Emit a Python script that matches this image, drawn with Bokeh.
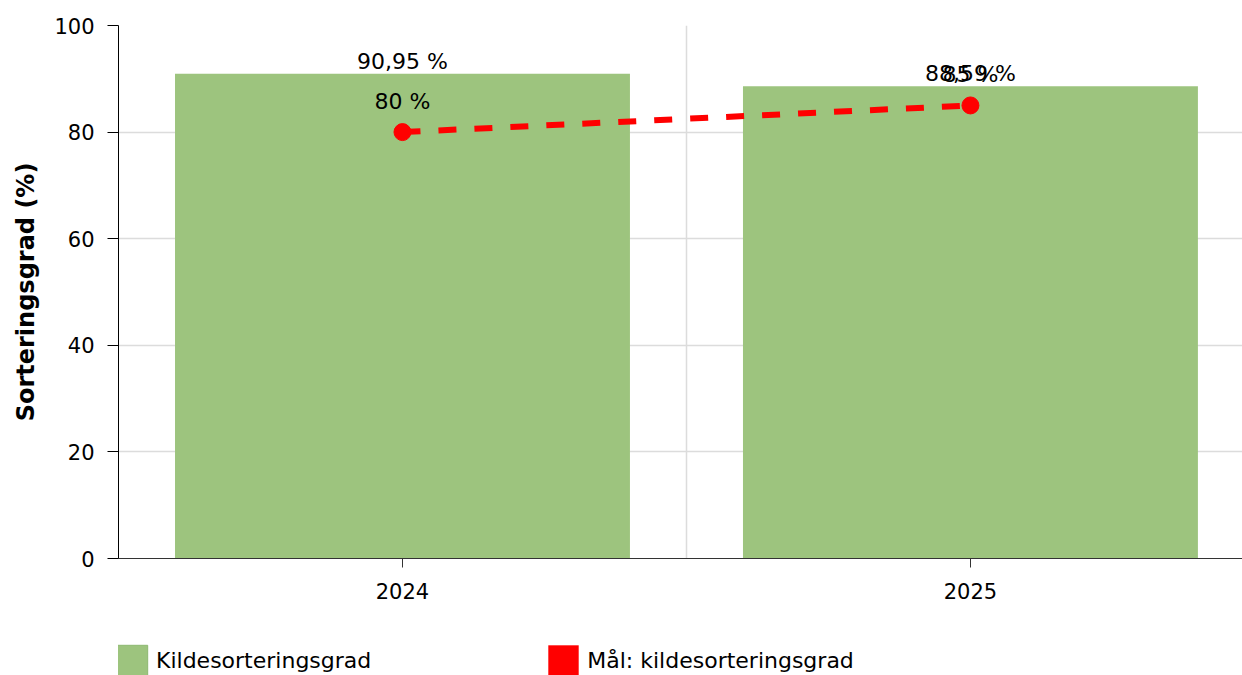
from bokeh.plotting import figure
from bokeh.layouts import column
from bokeh.models import ColumnDataSource, Range1d, FixedTicker, LabelSet, Legend, LegendItem
from bokeh.core.properties import value
from bokeh.embed import file_html
from bokeh.resources import INLINE

years = ["2024", "2025"]
sorting_rate = [90.95, 88.59]
target_rate = [80, 85]
bar_labels = ["90,95 %", "88,59 %"]
target_labels = ["80 %", "85 %"]
series_names = ["Kildesorteringsgrad", "Mål: kildesorteringsgrad"]

FONT = "DejaVu Sans"
GREEN = "#9DC47E"
RED = "#FF0000"

xs = [i + 0.5 for i in range(len(years))]
src = ColumnDataSource(dict(x=xs, bar=sorting_rate, target=target_rate,
                            bl=bar_labels, tl=target_labels, zero=[0] * len(xs)))

# the original chart's plot area runs a little past the right edge of the picture
p = figure(width=1242, height=605, output_backend="svg", toolbar_location=None,
           x_range=Range1d(0, 1.979), y_range=Range1d(0, 100),
           min_border_left=118, min_border_top=25, min_border_right=0, min_border_bottom=47)
p.outline_line_color = None
p.background_fill_color = "white"

p.xgrid.ticker = FixedTicker(ticks=list(range(1, len(years))))
p.xgrid.grid_line_color = "#dcdcdc"
p.ygrid.grid_line_color = "#dcdcdc"
p.xgrid.grid_line_width = 1.5
p.ygrid.grid_line_width = 1.5

bars = p.vbar(x="x", top="bar", width=0.801, source=src, fill_color=GREEN, line_color=None)
p.line(x="x", y="target", source=src, line_color=RED, line_width=6, line_dash="18 18")
p.scatter(x="x", y="target", source=src, size=17, fill_color=RED, line_color=RED)

p.add_layout(LabelSet(x="x", y="bar", text="bl", source=src, text_align="center",
                      text_baseline="alphabetic", y_offset=5, text_font=value(FONT),
                      text_font_size="22px", text_color="#000000"))
p.add_layout(LabelSet(x="x", y="target", text="tl", source=src, text_align="center",
                      text_baseline="alphabetic", y_offset=23, text_font=value(FONT),
                      text_font_size="22px", text_color="#000000"))

# axes
p.xaxis.ticker = FixedTicker(ticks=xs)
p.xaxis.major_label_overrides = {x: y for x, y in zip(xs, years)}
p.xaxis.minor_tick_line_color = None
p.xaxis.major_tick_out = 9
p.xaxis.major_tick_in = 0
p.xaxis.major_label_standoff = 15
p.xaxis.axis_line_color = "#333333"
p.xaxis.major_tick_line_color = "#333333"

p.yaxis.ticker = FixedTicker(ticks=[0, 20, 40, 60, 80, 100])
p.yaxis.minor_tick_line_color = None
p.yaxis.major_tick_out = 11
p.yaxis.major_tick_in = 0
p.yaxis.major_label_standoff = 13
p.yaxis.axis_label = "Sorteringsgrad (%)"
p.yaxis.axis_label_text_font_style = "bold"
p.yaxis.axis_label_standoff = 11
p.yaxis.axis_line_color = "#000000"
p.yaxis.major_tick_line_color = "#000000"

for ax in (p.xaxis, p.yaxis):
    ax.major_label_text_font = FONT
    ax.major_label_text_font_size = "21px"
    ax.major_label_text_color = "#000000"
    ax.axis_label_text_font = FONT
    ax.axis_label_text_font_size = "24px"
    ax.axis_label_text_color = "#000000"

# legend strip below the chart (its frame is aligned with the chart's frame)
lg = figure(width=1242, height=70, output_backend="svg", toolbar_location=None,
            x_range=Range1d(100, 200), y_range=Range1d(100, 200),
            x_axis_location=None, y_axis_location=None,
            min_border=0, outline_line_color=None)
lg.grid.visible = False
k1 = lg.vbar(x="x", top="zero", width=0.01, source=src, fill_color=GREEN, line_color="#8DB870")
k2 = lg.vbar(x="x", top="zero", width=0.01, source=src, fill_color=RED, line_color=None)
legend = Legend(items=[LegendItem(label=series_names[0], renderers=[k1]),
                       LegendItem(label=series_names[1], renderers=[k2])],
                orientation="horizontal", location=(-5, -4),
                glyph_width=38, glyph_height=38, label_standoff=5, spacing=173,
                label_width=214,
                label_text_font=FONT, label_text_font_size="22px",
                label_text_color="#000000", border_line_color=None,
                background_fill_alpha=0, padding=0, margin=0)
lg.add_layout(legend, "center")

open("out.html", "w").write(file_html(column(p, lg, spacing=0), INLINE))
